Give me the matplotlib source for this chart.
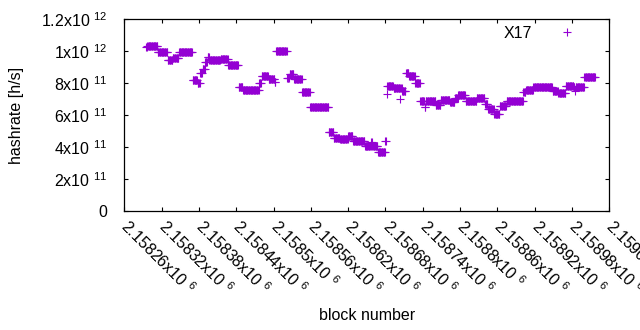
import numpy as np
import matplotlib
matplotlib.use("Agg")
import matplotlib.pyplot as plt

plt.rcParams['font.family'] = ['Liberation Sans', 'DejaVu Sans']
plt.rcParams['mathtext.fontset'] = 'custom'
plt.rcParams['mathtext.rm'] = 'Liberation Sans'
plt.rcParams['mathtext.default'] = 'regular'

# Runs of constant hashrate estimate: first block of each run and value (h/s)
run_start = [2158295, 2158297, 2158314, 2158330, 2158338, 2158348, 2158370, 2158378,
             2158382, 2158386, 2158390, 2158394, 2158397, 2158415, 2158427, 2158444,
             2158451, 2158477, 2158481, 2158492, 2158502, 2158504, 2158522, 2158526,
             2158533, 2158546, 2158559, 2158589, 2158597, 2158607, 2158620, 2158628,
             2158647, 2158657, 2158659, 2158668, 2158680, 2158682, 2158683, 2158693,
             2158703, 2158704, 2158707, 2158713, 2158718, 2158728, 2158736, 2158743,
             2158745, 2158761, 2158769, 2158784, 2158792, 2158797, 2158809, 2158827,
             2158840, 2158845, 2158855, 2158864, 2158875, 2158902, 2158906, 2158918,
             2158949, 2158958, 2158970, 2158983, 2158985, 2158986, 2159000]
run_value_e11 = [10.27, 10.34, 9.92, 9.46, 9.59, 9.91, 8.16, 7.98,
                 8.60, 8.86, 9.33, 9.60, 9.42, 9.49, 9.10, 7.75,
                 7.54, 7.98, 8.44, 8.27, 8.04, 9.98, 8.29, 8.54,
                 8.23, 7.42, 6.48, 4.92, 4.56, 4.50, 4.69, 4.40,
                 4.04, 4.33, 4.06, 3.71, 4.375, 7.31, 7.80, 7.67,
                 7.00, 7.67, 7.52, 8.64, 8.42, 7.98, 6.86, 6.48,
                 6.89, 6.60, 6.96, 6.81, 7.04, 7.27, 6.86, 7.08,
                 6.69, 6.40, 6.06, 6.54, 6.86, 7.45, 7.56, 7.73,
                 7.48, 7.35, 7.83, 7.73, 7.50, 7.73, 8.35]
last_block = 2159017

x_ticks = [2158260 + 60 * i for i in range(14)]
x_tick_labels = ["2.15826", "2.15832", "2.15838", "2.15844", "2.1585", "2.15856",
                 "2.15862", "2.15868", "2.15874", "2.1588", "2.15886", "2.15892",
                 "2.15898", "2.15904"]
y_ticks = [0, 2e11, 4e11, 6e11, 8e11, 1e12, 1.2e12]
y_tick_labels = ["0", "2x10 $^{11}$", "4x10 $^{11}$", "6x10 $^{11}$", "8x10 $^{11}$",
                 "1x10 $^{12}$", "1.2x10 $^{12}$"]

# expand runs to one point per block
ends = run_start[1:] + [last_block + 1]
blocks = []
values = []
for s, e, v in zip(run_start, ends, run_value_e11):
    for b in range(s, e):
        blocks.append(b)
        values.append(v * 1e11)

W, H = 640, 330
fig = plt.figure(figsize=(W / 100, H / 100), dpi=100)
L, R, T, B = 124.3, 609.3, 19, 211
ax = fig.add_axes([L / W, 1 - B / H, (R - L) / W, (B - T) / H])

color = '#9400D3'
ax.plot(blocks, values, linestyle='none', marker='+', markersize=5.3,
        markeredgewidth=0.8, color=color, label='X17')

ax.set_xlim(2158260, 2159040)
ax.set_ylim(0, 1.2e12)
ax.set_xticks(x_ticks)
ax.set_xticklabels([t + "x10 $^{6}$" for t in x_tick_labels], rotation=-45,
                   ha='left', va='center', rotation_mode='anchor', fontsize=11.5)
ax.set_yticks(y_ticks)
ax.set_yticklabels(y_tick_labels, fontsize=11.5)
ax.tick_params(direction='in', length=3.2, width=0.8, top=True, right=True)
ax.tick_params(axis='x', pad=9)
ax.tick_params(axis='y', pad=12)
for s in ax.spines.values():
    s.set_linewidth(0.9)

fig.text(366.8 / W, 1 - 315 / H, "block number", ha='center', va='center', fontsize=11.5)
fig.text(17 / W, 1 - 115 / H, "hashrate [h/s]", ha='center', va='center',
         rotation=90, fontsize=11.5)

leg = ax.legend(loc='upper right', bbox_to_anchor=(0.946, 0.966), frameon=False,
                markerfirst=False, fontsize=11.5, handlelength=2.0,
                handletextpad=1.2, borderaxespad=0, borderpad=0)

fig.savefig("out.png", dpi=100)
